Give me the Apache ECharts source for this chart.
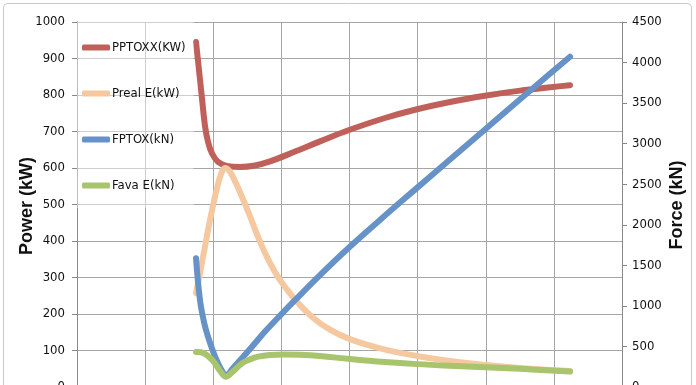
<!DOCTYPE html>
<html>
<head>
<meta charset="utf-8">
<script src="https://cdn.jsdelivr.net/npm/echarts@6/dist/echarts.min.js"></script>
<style>
html,body{margin:0;padding:0;background:#fff;}
#c{width:696px;height:385px;}
</style>
</head>
<body>
<div id="c"></div>
<script>
// x positions are in grid-column units (8 columns), y in kW (left) or kN (right)
const seriesNames = ['PPTOXX(KW)', 'Preal E(kW)', 'FPTOX(kN)', 'Fava E(kN)'];
const axisNames = ['Power (kW)', 'Force (kN)'];
const pptoxx = [[1.747,945],[1.79,870],[1.835,790],[1.879,715],[1.923,672],[1.982,640],[2.07,617],[2.217,605],[2.393,603],[2.613,607],[2.833,618],[3.2,645],[3.567,673],[3.993,704],[4.521,737],[4.991,761],[5.475,781],[5.989,798],[6.503,812],[6.987,822],[7.237,827]];
const prealE = [[1.747,257],[1.805,312],[1.864,370],[1.923,430],[1.982,484],[2.055,545],[2.114,583],[2.172,600],[2.246,590],[2.334,558],[2.422,521],[2.525,475],[2.613,432],[2.701,392],[2.789,356],[2.892,320],[2.98,293],[3.2,240],[3.464,190],[3.714,157],[4.007,131],[4.448,106],[4.991,85],[5.475,71],[5.989,60],[6.503,52],[7.237,44]];
const fptox = [[1.747,1587],[1.805,1073],[1.864,800],[1.923,620],[1.996,440],[2.07,292],[2.128,200],[2.187,136],[2.275,219],[2.393,330],[2.569,497],[2.76,683],[2.98,880],[3.2,1070],[3.567,1380],[3.993,1720],[4.448,2060],[4.991,2455],[5.475,2805],[5.989,3175],[6.209,3335],[6.723,3705],[7.237,4072]];
const favaE = [[1.747,432],[1.82,428],[1.879,408],[1.952,360],[2.026,292],[2.099,200],[2.187,127],[2.275,180],[2.422,292],[2.539,340],[2.657,374],[2.833,395],[3.053,402],[3.273,398],[3.567,382],[4.007,345],[4.521,308],[4.991,282],[5.475,262],[5.989,245],[6.503,225],[7.237,190]];
const powerTicks = {min:0, max:1000, interval:100};
const forceTicks = {min:0, max:4500, interval:500};

const FONT = "'DejaVu Sans Condensed', 'Liberation Sans', sans-serif";
const BOLD = "'Liberation Sans', sans-serif";
const colors = ['#c0605a', '#f5c8a0', '#6692c8', '#a8c46c'];
const chart = echarts.init(document.getElementById('c'), null, {renderer:'canvas'});
const gridColor = '#a6a6a6';
function mk(name, data, idx, axis){
  return {name:name, type:'line', yAxisIndex:axis, data:data, smooth:0.4, showSymbol:false,
    lineStyle:{width:6, color:colors[idx], cap:'round', join:'round'}, itemStyle:{color:colors[idx]}, z:2+idx};
}
chart.setOption({
  animation:false,
  backgroundColor:'#fff',
  graphic:[
    {type:'rect', shape:{x:3.5, y:3.5, width:688, height:400, r:4}, style:{fill:'none', stroke:'#c8c8c8', lineWidth:1}, silent:true, z:-1},
    {type:'text', x:27, y:206, rotation:Math.PI/2, style:{text:axisNames[0], font:"bold 18px " + BOLD, fill:'#111', align:'center', verticalAlign:'middle'}},
    {type:'text', x:677, y:205, rotation:Math.PI/2, style:{text:axisNames[1], font:"bold 18px " + BOLD, fill:'#111', align:'center', verticalAlign:'middle'}}
  ],
  grid:{left:77, right:74, top:22, bottom:-2, containLabel:false, outerBoundsMode:'none'},
  legend:{orient:'vertical', left:77, top:22, padding:[17,8,14,5], backgroundColor:'rgba(255,255,255,0.45)',
    itemGap:29, itemWidth:28, itemHeight:6, icon:'roundRect',
    data:seriesNames, textStyle:{fontFamily:FONT, fontSize:13, color:'#111', lineHeight:17, padding:[0,0,0,-3]}},
  xAxis:{type:'value', min:0, max:8, interval:1,
    axisLine:{show:true, lineStyle:{color:'#888'}}, axisTick:{show:false}, axisLabel:{show:false},
    splitLine:{show:true, lineStyle:{color:gridColor, width:1}}},
  yAxis:[
    {type:'value', min:powerTicks.min, max:powerTicks.max, interval:powerTicks.interval, position:'left',
     axisLine:{show:true, lineStyle:{color:'#888'}}, axisTick:{show:true, length:5, lineStyle:{color:'#888'}},
     axisLabel:{fontFamily:FONT, fontSize:13, color:'#111', margin:12, formatter:v => String(v)},
     splitLine:{show:true, lineStyle:{color:gridColor, width:1}}},
    {type:'value', min:forceTicks.min, max:forceTicks.max, interval:forceTicks.interval, position:'right',
     axisLine:{show:true, lineStyle:{color:'#888'}}, axisTick:{show:true, length:5, lineStyle:{color:'#888'}},
     axisLabel:{fontFamily:FONT, fontSize:13, color:'#111', margin:10, formatter:v => String(v)},
     splitLine:{show:false}}
  ],
  series:[
    mk(seriesNames[0], pptoxx, 0, 0),
    mk(seriesNames[1], prealE, 1, 0),
    mk(seriesNames[2], fptox, 2, 1),
    mk(seriesNames[3], favaE, 3, 1)
  ]
});
</script>
</body>
</html>
